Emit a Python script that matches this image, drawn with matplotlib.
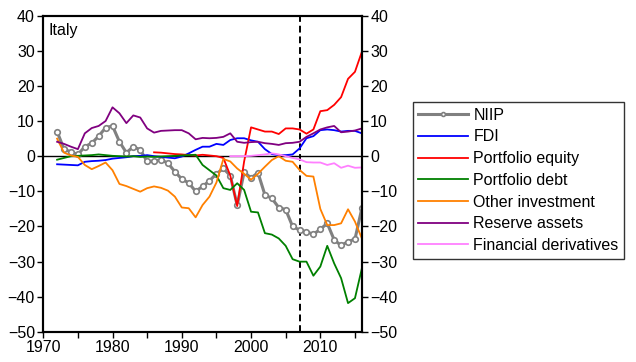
import numpy as np
import matplotlib
matplotlib.use('Agg')
import matplotlib.pyplot as plt
from matplotlib.ticker import MultipleLocator

plt.rcParams['font.family'] = ['Liberation Sans', 'DejaVu Sans']
plt.rcParams['font.size'] = 11.5

years = np.arange(1972, 2017)
nan = np.nan

niip = [7.0, 2.0, 1.2, 0.5, 2.7, 3.7, 5.7, 8.1, 8.6, 4.1,
        1.0, 2.7, 1.8, -1.5, -1.4, -1.0, -2.0, -4.4, -6.5, -7.6,
        -10.0, -8.6, -7.0, -5.0, -3.5, -5.5, -14.0, -4.5, -6.2, -4.7,
        -11.0, -12.0, -14.6, -15.2, -20.0, -21.0, -21.5, -22.2, -20.8, -19.1,
        -23.8, -25.4, -24.3, -23.6, -14.8]
fdi = [-2.3, -2.4, -2.5, -2.6, -1.6, -1.4, -1.3, -1.1, -0.7, -0.5,
       -0.3, 0.0, 0.1, 0.3, 0.0, -0.2, -0.4, -0.6, -0.1, 0.8,
       1.8, 2.7, 2.7, 3.5, 3.2, 4.6, 5.1, 5.1, 4.5, 4.1,
       2.0, 0.6, 0.3, 0.3, 0.5, 2.2, 5.1, 5.7, 7.4, 7.6,
       7.4, 7.0, 7.2, 7.2, 6.5]
port_equity = [nan] * 14 + [1.1, 1.0, 0.8, 0.6, 0.5, 0.3,
               0.2, 0.4, 0.2, 0.0, -0.5, -5.5, -14.2, -1.5, 8.2, 7.6,
               7.0, 7.0, 6.3, 7.9, 7.9, 7.6, 6.4, 7.6, 12.8, 13.1,
               14.6, 16.8, 22.0, 24.0, 29.7]
port_debt = [-1.0, -0.5, 0.0, 0.1, 0.2, 0.3, 0.5, 0.3, 0.1, 0.0,
             -0.1, 0.0, -0.2, -0.1, -0.2, -0.1, 0.0, 0.1, 0.2, 0.3,
             0.4, -2.5, -4.0, -5.5, -9.1, -9.6, -7.7, -9.6, -15.8, -16.0,
             -21.9, -22.3, -23.4, -25.5, -29.3, -30.0, -30.0, -34.0, -31.4, -25.5,
             -30.5, -34.7, -41.8, -40.4, -31.9]
other_inv = [5.0, 1.0, 0.2, -0.2, -2.5, -3.7, -2.8, -1.8, -4.0, -7.9,
             -8.5, -9.3, -10.1, -9.1, -8.6, -9.0, -9.8, -11.5, -14.6, -14.8,
             -17.4, -13.9, -11.5, -7.5, -0.8, -1.5, -3.5, -5.0, -6.7, -5.0,
             -3.0, -1.1, 0.0, -1.3, -1.6, -3.9, -5.6, -5.8, -15.0, -19.6,
             -19.6, -19.1, -15.1, -18.6, -23.4]
reserves = [4.1, 3.5, 2.7, 2.0, 6.5, 8.0, 8.6, 10.0, 13.9, 12.2,
            9.4, 11.6, 11.0, 7.9, 6.7, 7.2, 7.3, 7.4, 7.4, 6.5,
            4.8, 5.2, 5.1, 5.2, 5.5, 6.5, 4.1, 3.8, 4.0, 4.1,
            3.7, 3.5, 3.2, 3.7, 3.8, 4.1, 5.5, 6.5, 7.6, 8.2,
            8.6, 6.8, 7.0, 7.3, 7.9]
derivs = [nan] * 25 + [0.0, 0.0, 0.0, 0.1, 0.3,
          0.5, 0.8, 0.5, 0.0, -0.5, -0.9, -1.7, -1.8, -1.8, -2.5,
          -2.0, -3.3, -2.7, -3.3, -3.2]

fig = plt.figure(figsize=(6.36, 3.62), dpi=100)
ax = fig.add_axes([0.068, 0.083, 0.501, 0.874])

ax.axhline(0, color='black', lw=1.0, zorder=1)
ax.axvline(2007, color='black', lw=1.4, ls=(0, (3.5, 2)), zorder=1)

ax.plot(years, niip, color='#808080', lw=2.2, marker='o', ms=4,
        mfc='white', mec='#808080', mew=1.2, label='NIIP', zorder=2)
ax.plot(years, fdi, color='#0000ff', lw=1.3, label='FDI', zorder=3)
ax.plot(years, port_equity, color='#ff0000', lw=1.3, label='Portfolio equity', zorder=3)
ax.plot(years, port_debt, color='#008000', lw=1.3, label='Portfolio debt', zorder=3)
ax.plot(years, other_inv, color='#ff8000', lw=1.3, label='Other investment', zorder=3)
ax.plot(years, reserves, color='#800080', lw=1.3, label='Reserve assets', zorder=3)
ax.plot(years, derivs, color='#ff80ff', lw=1.3, label='Financial derivatives', zorder=3)

ax.set_xlim(1970, 2016)
ax.set_ylim(-50, 40)
ax.xaxis.set_major_locator(MultipleLocator(10))
ax.xaxis.set_minor_locator(MultipleLocator(5))
ax.yaxis.set_major_locator(MultipleLocator(10))
ax.tick_params(axis='both', which='both', direction='out', length=4, width=1,
               labelsize=11.5, top=False, pad=2)
ax.tick_params(axis='x', which='minor', length=4)
for s in ax.spines.values():
    s.set_linewidth(1.5)

ax2 = ax.twinx()
ax2.set_ylim(-50, 40)
ax2.yaxis.set_major_locator(MultipleLocator(10))
ax2.tick_params(axis='y', direction='out', length=4, width=1, labelsize=11.5, pad=2)
for s in ax2.spines.values():
    s.set_linewidth(1.5)

ax.text(0.015, 0.975, 'Italy', transform=ax.transAxes, ha='left', va='top', fontsize=11.5)

h, l = ax.get_legend_handles_labels()
leg = fig.legend(h, l, loc='upper left', bbox_to_anchor=(0.649, 0.718),
                 borderaxespad=0, frameon=True, fancybox=False, edgecolor='black',
                 handlelength=3.1, handletextpad=0.35, labelspacing=0.42,
                 borderpad=0.35, fontsize=11.5, markerscale=0.7)
leg.get_frame().set_linewidth(1.0)

fig.savefig('out.png', dpi=100)
